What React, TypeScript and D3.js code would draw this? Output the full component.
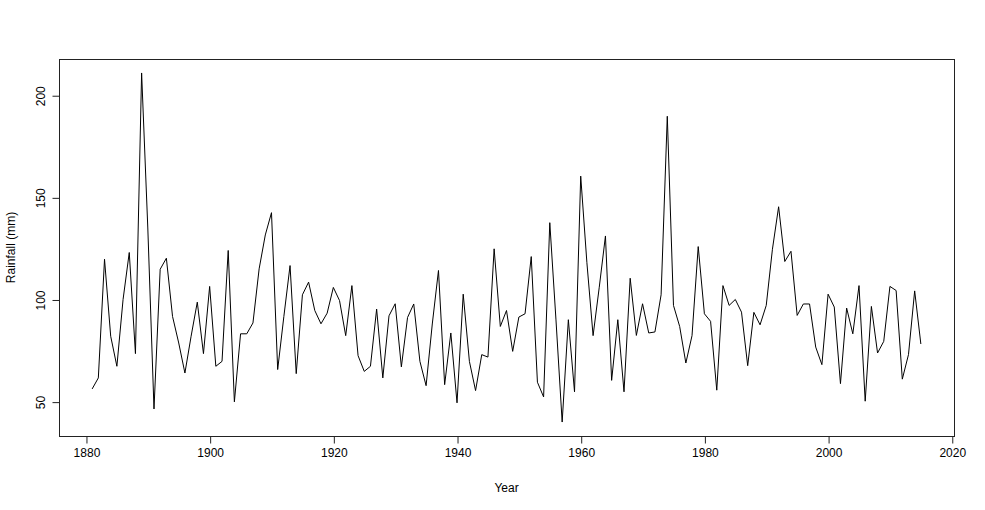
import React, { useEffect, useRef } from 'react';
import * as d3 from 'd3';

// annual rainfall, 1881 - 2015
const firstYear = 1881;
const lastYear = 2015;
const rainfall = [
  56.2, 61.6, 119.7, 82, 67.3, 100, 123, 73.5, 210.9, 135, // 1881-1890
  46.4, 114.8, 120.2, 91.7, 78.7, 64, 82, 98.7, 73.5, 106.4, // 1891-1900
  67.3, 69.7, 124, 49.9, 83.2, 83.2, 88.5, 115, 131.6, 142.5, // 1901-1910
  65.7, 91.7, 116.6, 63.7, 102.3, 108.5, 94.6, 88.1, 93.3, 105.9, // 1911-1920
  99.5, 82.3, 106.8, 72.5, 64.8, 67.3, 95.3, 61.6, 92, 97.9, // 1921-1930
  67, 91.2, 97.8, 69.7, 57.8, 88, 114.2, 58.3, 83.6, 49.4, // 1931-1940
  102.6, 69.7, 55.4, 73, 71.8, 124.8, 86.8, 94.6, 74.6, 91.4, // 1941-1950
  93, 121, 59.5, 52.3, 137.6, 90, 40, 90.1, 54.8, 160.4, // 1951-1960
  118, 82.3, 106, 131.1, 60.4, 90.1, 54.8, 110.4, 82.4, 97.9, // 1961-1970
  83.6, 84.1, 102.3, 189.7, 97.1, 86.8, 68.9, 82.3, 125.9, 93, // 1971-1980
  89.3, 55.6, 106.8, 97.1, 100, 93.8, 67.6, 93.7, 87.6, 97.1, // 1981-1990
  124.6, 145.4, 118.6, 123.6, 92.2, 97.8, 97.8, 76.7, 68.1, 102.6, // 1991-2000
  96.3, 58.8, 95.8, 83.2, 106.8, 50.2, 96.6, 73.8, 79.5, 106.4, // 2001-2010
  104.4, 61, 73, 104.2, 78.2, // 2011-2015
];
const years = d3.range(firstYear, lastYear + 1);

const xTicks = [1880, 1900, 1920, 1940, 1960, 1980, 2000, 2020];
const yTicks = [50, 100, 150, 200];

const xLabel = 'Year';
const yLabel = 'Rainfall (mm)';

const App = () => {
  const svgRef = useRef(null);

  useEffect(() => {
    const svg = d3.select(svgRef.current);
    svg.selectAll('*').remove();

    const width = 985;
    const height = 510;
    const box = { left: 59, right: 954, top: 59, bottom: 436 };
    const font = '"Liberation Sans", Arial, Helvetica, sans-serif';

    // R-style 4% padding on each side
    const pad = (ext) => {
      const r = ext[1] - ext[0];
      return [ext[0] - 0.04 * r, ext[1] + 0.04 * r];
    };

    const x = d3.scaleLinear()
      .domain(pad(d3.extent(years)))
      .range([box.left, box.right]);

    const y = d3.scaleLinear()
      .domain(pad(d3.extent(rainfall)))
      .range([box.bottom, box.top]);

    svg.attr('width', width).attr('height', height).style('background', '#fff');

    const data = years.map((yr, i) => ({ year: yr, value: rainfall[i] }));

    const line = d3.line()
      .x(d => x(d.year))
      .y(d => y(d.value));

    svg.append('path')
      .datum(data)
      .attr('d', line)
      .attr('fill', 'none')
      .attr('stroke', '#000')
      .attr('stroke-width', 1);

    // plot frame
    svg.append('rect')
      .attr('x', box.left + 0.5)
      .attr('y', box.top + 0.5)
      .attr('width', box.right - box.left)
      .attr('height', box.bottom - box.top)
      .attr('fill', 'none')
      .attr('stroke', '#222')
      .attr('stroke-width', 1);

    // x axis
    const gx = svg.append('g')
      .attr('transform', `translate(0.5,${box.bottom + 0.5})`)
      .call(d3.axisBottom(x).tickValues(xTicks).tickFormat(d3.format('d')).tickSize(7).tickSizeOuter(0).tickPadding(5));
    gx.select('.domain').attr('d', `M${x(xTicks[0])},0H${x(xTicks[xTicks.length - 1])}`).attr('stroke', '#222');
    gx.selectAll('.tick line').attr('stroke', '#222');
    gx.selectAll('text').attr('fill', '#000').style('font-family', font).style('font-size', '12px');

    // y axis, labels rotated like R's default
    const gy = svg.append('g')
      .attr('transform', `translate(${box.left + 0.5},0.5)`)
      .call(d3.axisLeft(y).tickValues(yTicks).tickSize(7).tickSizeOuter(0).tickFormat(d3.format('d')));
    gy.select('.domain').attr('d', `M0,${y(yTicks[0])}V${y(yTicks[yTicks.length - 1])}`).attr('stroke', '#222');
    gy.selectAll('.tick line').attr('stroke', '#222');
    gy.selectAll('text')
      .attr('x', null)
      .attr('dy', null)
      .attr('transform', 'translate(-15,0) rotate(-90)')
      .attr('text-anchor', 'middle')
      .attr('fill', '#000')
      .style('font-family', font)
      .style('font-size', '12px');

    // axis titles
    svg.append('text')
      .attr('x', (box.left + box.right) / 2)
      .attr('y', 492)
      .attr('text-anchor', 'middle')
      .style('font-family', font)
      .style('font-size', '12px')
      .text(xLabel);

    svg.append('text')
      .attr('transform', `translate(15,${(box.top + box.bottom) / 2}) rotate(-90)`)
      .attr('text-anchor', 'middle')
      .style('font-family', font)
      .style('font-size', '12px')
      .text(yLabel);
  }, []);

  return (
    <div>
      <svg ref={svgRef} style={{ position: 'absolute', left: 0, top: 0 }}></svg>
    </div>
  );
};

export default App;
